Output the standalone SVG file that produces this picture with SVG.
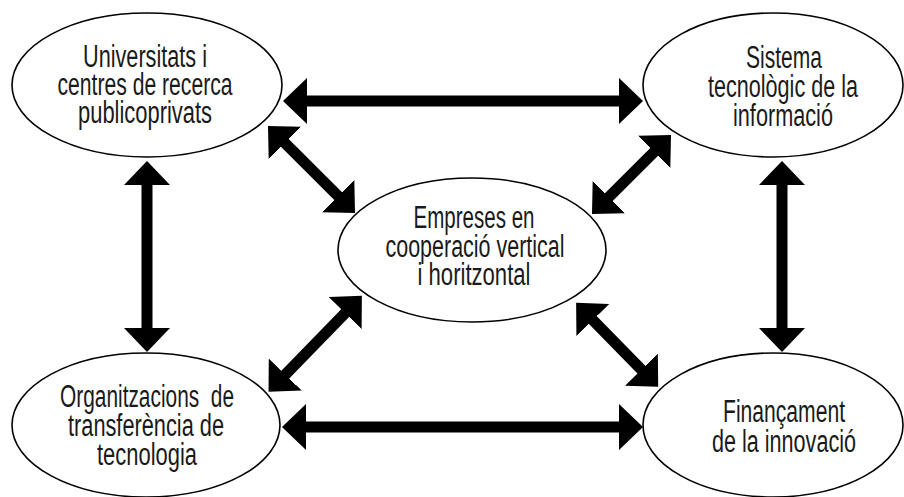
<svg xmlns="http://www.w3.org/2000/svg" width="904" height="497" viewBox="0 0 904 497">
<defs>
<style>
.node ellipse{fill:#fff;stroke:#000;stroke-width:1.6}
.node text{font-family:"Liberation Sans Narrow","Liberation Sans",Arial,sans-serif;font-size:31px;fill:#1a1a1a;text-anchor:middle}
.conn line{stroke:#000;stroke-width:11;marker-start:url(#ah);marker-end:url(#ah)}
</style>
<marker id="ah" viewBox="0 0 24 46" refX="8" refY="23" markerWidth="24" markerHeight="46" markerUnits="userSpaceOnUse" orient="auto-start-reverse">
<path d="M0,0 L24,23 L0,46 Z" fill="#000"/>
</marker>
</defs>
<rect width="904" height="497" fill="#fff"/>
<g id="connectors" class="conn">
<line x1="299" y1="101" x2="627" y2="101"/>
<line x1="298" y1="427" x2="627" y2="427"/>
<line x1="147" y1="177" x2="147" y2="336"/>
<line x1="782" y1="177" x2="782" y2="336"/>
<line x1="279.3" y1="137.3" x2="343.7" y2="201.7"/>
<line x1="659.7" y1="146.3" x2="603.3" y2="202.7"/>
<line x1="350.7" y1="307.3" x2="279.7" y2="380.3"/>
<line x1="587.3" y1="314.3" x2="647" y2="375.4"/>
</g>
<g id="universitats" class="node">
<ellipse cx="147" cy="85" rx="135" ry="72"/>
<text x="145" y="67" textLength="124" lengthAdjust="spacingAndGlyphs">Universitats i</text>
<text x="145" y="95" textLength="175" lengthAdjust="spacingAndGlyphs">centres de recerca</text>
<text x="145" y="123" textLength="134" lengthAdjust="spacingAndGlyphs">publicoprivats</text>
</g>
<g id="sistema" class="node">
<ellipse cx="773" cy="85" rx="130" ry="72"/>
<text x="784" y="68" textLength="76" lengthAdjust="spacingAndGlyphs">Sistema</text>
<text x="783" y="97" textLength="150" lengthAdjust="spacingAndGlyphs">tecnològic de la</text>
<text x="783" y="126" textLength="100" lengthAdjust="spacingAndGlyphs">informació</text>
</g>
<g id="empreses" class="node">
<ellipse cx="472" cy="250" rx="134" ry="72"/>
<text x="474" y="228" textLength="121" lengthAdjust="spacingAndGlyphs">Empreses en</text>
<text x="475" y="257" textLength="179" lengthAdjust="spacingAndGlyphs">cooperació vertical</text>
<text x="474" y="285" textLength="113" lengthAdjust="spacingAndGlyphs">i horitzontal</text>
</g>
<g id="organitzacions" class="node">
<ellipse cx="146" cy="425" rx="134" ry="72"/>
<text x="147" y="407" textLength="174" lengthAdjust="spacingAndGlyphs" style="white-space:pre">Organitzacions  de</text>
<text x="146" y="436" textLength="156" lengthAdjust="spacingAndGlyphs">transferència de</text>
<text x="147" y="465" textLength="100" lengthAdjust="spacingAndGlyphs">tecnologia</text>
</g>
<g id="financament" class="node">
<ellipse cx="773" cy="425" rx="130" ry="72"/>
<text x="784" y="422" textLength="122" lengthAdjust="spacingAndGlyphs">Finançament</text>
<text x="784" y="452" textLength="144" lengthAdjust="spacingAndGlyphs">de la innovació</text>
</g>
</svg>
